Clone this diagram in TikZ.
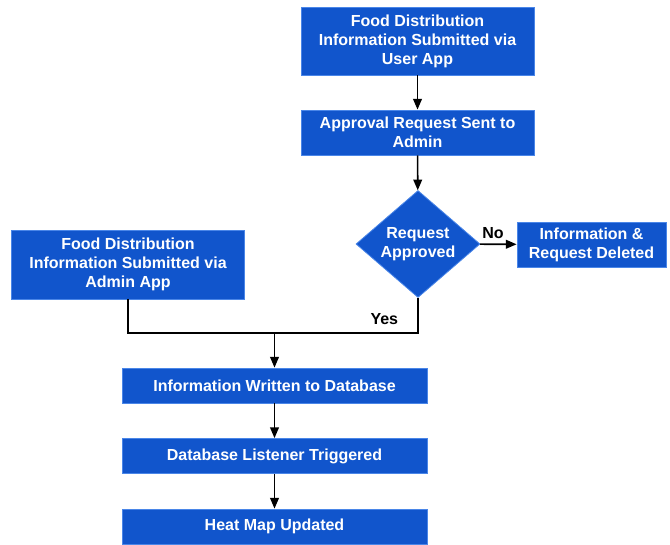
\documentclass[tikz,border=0pt]{standalone}
\usepackage{fontspec}
\setmainfont{Liberation Sans}
\usetikzlibrary{shapes.geometric,arrows.meta}
\definecolor{FlowBlue}{HTML}{1155CC}
\definecolor{FlowEdge}{HTML}{4A86E8}

\begin{document}
\begin{tikzpicture}[x=0.75pt,y=-0.75pt,
  box/.style={draw=FlowEdge,fill=FlowBlue,text=white,line width=0.6pt,inner sep=0pt,align=center,
              font=\fontsize{12}{14.25}\selectfont\bfseries},
  flow/.style={-{Triangle[length=8pt,width=6.5pt]},line width=1.2pt}]
  \useasboundingbox (0,0) rectangle (670,544);

  \node[box,minimum width=174.75pt,minimum height=51pt]   (user)    at (417.5,41)   {Food Distribution\\Information Submitted via\\User App};
  \node[box,minimum width=174.75pt,minimum height=33.75pt](approval) at (417.5,132.5) {Approval Request Sent to\\Admin};
  \node[box,shape=diamond,shape aspect=1.16,minimum width=93pt,minimum height=80.25pt](decision) at (418,244) {Request\\Approved};
  \node[box,minimum width=111.75pt,minimum height=33.75pt](deleted)  at (591.5,244.5) {Information \&\\Request Deleted};
  \node[box,minimum width=174.75pt,minimum height=51.75pt](admin)    at (128,264.5)  {Food Distribution\\Information Submitted via\\Admin App};

  \node[box,minimum width=228.75pt,minimum height=26.25pt](written)  at (274.5,385.5) {Information Written to Database};
  \node[box,minimum width=228.75pt,minimum height=26.25pt](listener) at (274.5,456)   {Database Listener Triggered};
  \node[box,minimum width=228.75pt,minimum height=26.25pt](heatmap)  at (274.5,526.5) {Heat Map Updated};

  \coordinate (merge) at (274.5,333);

  \draw[flow] (user) -- (approval);
  \draw[flow] (approval) -- (decision);
  \draw[flow] (decision) -- node[pos=0.35,above,font=\fontsize{12}{14.25}\selectfont\bfseries,yshift=0pt]{No} (deleted);
  \draw[line width=1.2pt] (decision.south) |- node[pos=0.5,anchor=south east,xshift=-11pt,yshift=2pt,font=\fontsize{12}{14.25}\selectfont\bfseries]{Yes} (merge);
  \draw[line width=1.2pt] (admin.south) |- (merge);
  \draw[flow] (merge) -- (written);
  \draw[flow] (written) -- (listener);
  \draw[flow] (listener) -- (heatmap);
\end{tikzpicture}
\end{document}
